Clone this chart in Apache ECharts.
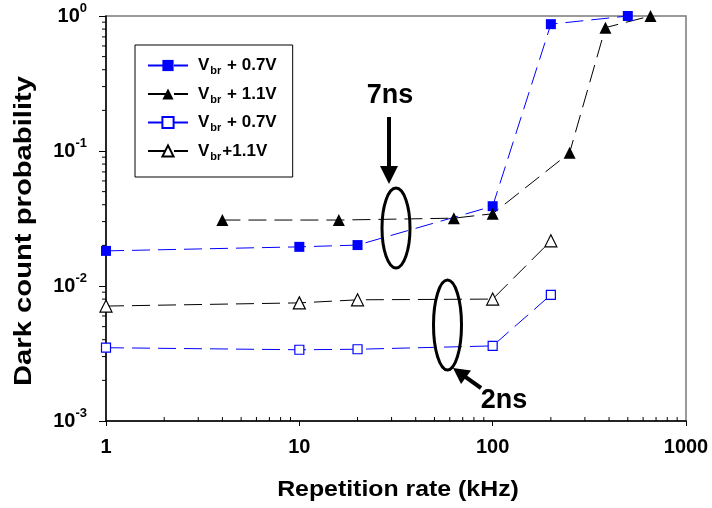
<!DOCTYPE html>
<html>
<head>
<meta charset="utf-8">
<script src="https://cdn.jsdelivr.net/npm/echarts@6/dist/echarts.min.js"></script>
<style>
  html, body { margin: 0; background: #fff; }
  #chart { width: 712px; height: 508px; }
</style>
</head>
<body>
<div id="chart"></div>
<script>
// repetition rate (kHz) and dark count probability
const xBlueFilled = [1, 10, 20, 100, 200, 500];
const yBlueFilled = [0.0182, 0.0195, 0.0201, 0.039, 0.87, 1.0];
const xBlackFilled = [4, 16, 63, 100, 250, 383, 655];
const yBlackFilled = [0.0308, 0.0308, 0.0318, 0.0343, 0.097, 0.82, 1.0];
const xOpen = [1, 10, 20, 100, 200];
const yBlueOpen = [0.00349, 0.00337, 0.0034, 0.0036, 0.0086];
const yBlackOpen = [0.0071, 0.0075, 0.0079, 0.008, 0.0216];
const legendLabels = [" + 0.7V", " + 1.1V", " + 0.7V", "+1.1V"];

const FONT = "'Liberation Sans', Arial, sans-serif";
const BLUE = "#0000ff";
const pairs = (xs, ys) => xs.map((x, i) => [x, ys[i]]);

const chart = echarts.init(document.getElementById("chart"));

function lineSeries(name, xs, ys, color, symbol, size, filled) {
  return {
    name,
    type: "line",
    data: pairs(xs, ys),
    clip: false,
    symbol,
    symbolSize: size,
    lineStyle: { color, width: 1, type: [18, 8] },
    itemStyle: filled
      ? { color }
      : { color: "#fff", borderColor: color, borderWidth: 1.2 },
    emphasis: { disabled: true },
    z: 3,
  };
}

const names = ["s1", "s2", "s3", "s4"];

chart.setOption({
  animation: false,
  grid: {
    left: 106, right: 26, top: 16, bottom: 87,
    show: true, borderColor: "#7a7a7a", borderWidth: 1.5,
  },
  legend: {
    orient: "vertical",
    left: 135, top: 45,
    padding: [12, 16, 15, 12],
    itemGap: 9,
    itemWidth: 40, itemHeight: 14,
    borderColor: "#000", borderWidth: 1,
    backgroundColor: "#fff",
    data: names,
    formatter: (n) => `{v|V}{s|br}{v|${legendLabels[names.indexOf(n)]}}`,
    textStyle: {
      padding: [0, 0, 0, 5],
      rich: {
        v: { fontSize: 17, fontWeight: "bold", fontFamily: FONT, color: "#000", lineHeight: 22 },
        s: { fontSize: 11, fontWeight: "bold", fontFamily: FONT, color: "#000", lineHeight: 12, verticalAlign: "bottom", padding: [0, 1, 0, 1] },
      },
    },
  },
  xAxis: {
    type: "log", logBase: 10, min: 1, max: 1000,
    axisLine: { lineStyle: { color: "#000", width: 1.5 } },
    axisTick: { show: true, inside: false, length: 5, lineStyle: { color: "#000" } },
    splitLine: { show: false },
    axisLabel: {
      margin: 16, color: "#000", fontSize: 20, fontWeight: "bold", fontFamily: FONT,
      formatter: (v) => String(Math.round(v)),
    },
  },
  yAxis: {
    type: "log", logBase: 10, min: 0.001, max: 1,
    axisLine: { lineStyle: { color: "#000", width: 1.5 } },
    axisTick: { show: true, inside: false, length: 7, lineStyle: { color: "#000" } },
    splitLine: { show: false },
    axisLabel: {
      margin: 19, color: "#000",
      formatter: (v) => `{b|10}{s|${Math.round(Math.log10(v))}}`,
      rich: {
        b: { fontSize: 20, fontWeight: "bold", fontFamily: FONT, lineHeight: 28 },
        s: { fontSize: 13, fontWeight: "bold", fontFamily: FONT, lineHeight: 13, verticalAlign: "top" },
      },
    },
  },
  series: [
    lineSeries("s1", xBlueFilled, yBlueFilled, BLUE, "rect", 10, true),
    lineSeries("s2", xBlackFilled, yBlackFilled, "#000", "triangle", 12, true),
    lineSeries("s3", xOpen, yBlueOpen, BLUE, "rect", 9, false),
    lineSeries("s4", xOpen, yBlackOpen, "#000", "triangle", 12, false),
  ],
});

// log minor ticks (2..9 per decade) placed through the axis scales
const graphics = [];
for (let d = 0; d < 3; d++) {
  for (let k = 2; k <= 9; k++) {
    const px = chart.convertToPixel({ xAxisIndex: 0 }, k * Math.pow(10, d));
    const py = chart.convertToPixel({ yAxisIndex: 0 }, 0.001);
    graphics.push({ type: "line", shape: { x1: px, y1: py, x2: px, y2: py - 4 }, style: { stroke: "#000", lineWidth: 1 }, silent: true });
  }
}
for (let d = -3; d < 0; d++) {
  for (let k = 2; k <= 9; k++) {
    const py = chart.convertToPixel({ yAxisIndex: 0 }, k * Math.pow(10, d));
    const px = chart.convertToPixel({ xAxisIndex: 0 }, 1);
    graphics.push({ type: "line", shape: { x1: px, y1: py, x2: px - 4, y2: py }, style: { stroke: "#000", lineWidth: 1 }, silent: true });
  }
}

// annotations
const ink = { stroke: "#000", lineWidth: 3, fill: "none" };
graphics.push(
  { type: "ellipse", shape: { cx: 396, cy: 228, rx: 14, ry: 40 }, style: ink, z: 10 },
  { type: "ellipse", shape: { cx: 447.5, cy: 325, rx: 14, ry: 45 }, style: ink, z: 10 },
  { type: "line", shape: { x1: 389, y1: 117, x2: 389, y2: 170 }, style: { stroke: "#000", lineWidth: 4 }, z: 10 },
  { type: "polygon", shape: { points: [[380, 166], [398, 166], [389, 184]] }, style: { fill: "#000" }, z: 10 },
  { type: "line", shape: { x1: 481, y1: 388, x2: 465, y2: 376.6 }, style: { stroke: "#000", lineWidth: 4 }, z: 10 },
  { type: "polygon", shape: { points: [[453, 368], [471, 370.5], [461, 384]] }, style: { fill: "#000" }, z: 10 },
  { type: "text", x: 390, y: 96, style: { text: "7ns", font: `bold 27px ${FONT}`, fill: "#000", align: "center", verticalAlign: "middle" }, z: 10 },
  { type: "text", x: 504, y: 401, style: { text: "2ns", font: `bold 27px ${FONT}`, fill: "#000", align: "center", verticalAlign: "middle" }, z: 10 },
  { type: "text", x: 398, y: 490, scaleX: 1.13, style: { text: "Repetition rate (kHz)", font: `bold 22px ${FONT}`, fill: "#000", align: "center", verticalAlign: "middle" } },
  { type: "text", x: 25, y: 231, rotation: Math.PI / 2, scaleX: 1.27, style: { text: "Dark count probability", font: `bold 23px ${FONT}`, fill: "#000", align: "center", verticalAlign: "middle" } }
);
chart.setOption({ graphic: graphics });
</script>
</body>
</html>
